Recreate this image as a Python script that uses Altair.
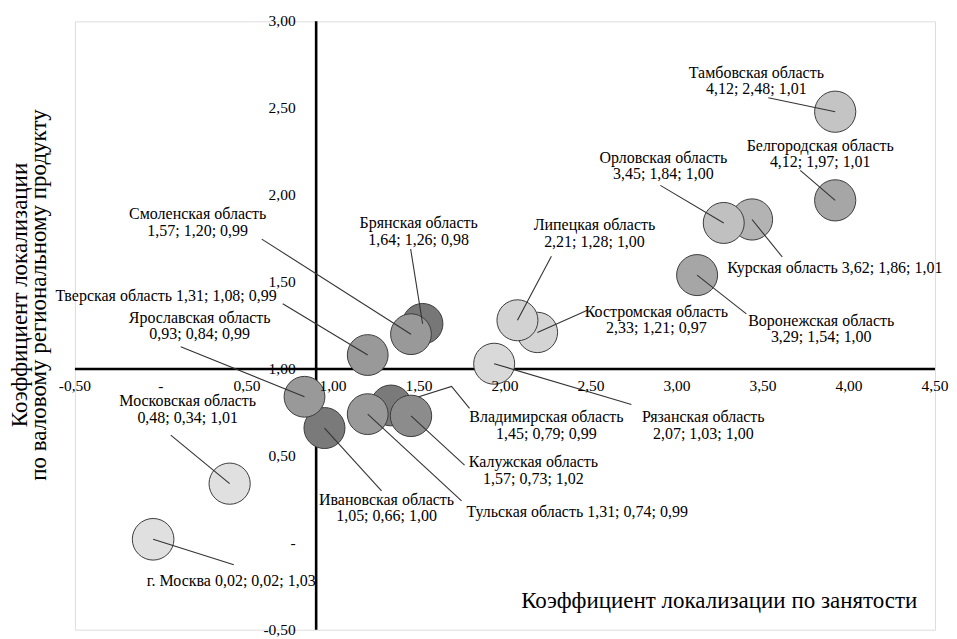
import altair as alt
import pandas as pd

# ---------------- data (drawing order: back to front) ----------------
regions = [
    "Брянская область", "Ивановская область", "Владимирская область",
    "Курская область", "Костромская область", "Смоленская область",
    "Тверская область", "Ярославская область", "Тульская область",
    "Калужская область", "Липецкая область", "Рязанская область",
    "Орловская область", "Тамбовская область", "Белгородская область",
    "Воронежская область", "Московская область", "г. Москва",
]
loc_employment = [1.64, 1.05, 1.45, 3.62, 2.33, 1.57, 1.31, 0.93, 1.31,
                  1.57, 2.21, 2.07, 3.45, 4.12, 4.12, 3.29, 0.48, 0.02]
loc_grp = [1.26, 0.66, 0.79, 1.86, 1.21, 1.20, 1.08, 0.84, 0.74,
           0.73, 1.28, 1.03, 1.84, 2.48, 1.97, 1.54, 0.34, 0.02]
bubble_size = [0.98, 1.00, 0.99, 1.01, 0.97, 0.99, 0.99, 0.99, 0.99,
               1.02, 1.00, 1.00, 1.00, 1.01, 1.01, 1.00, 1.01, 1.03]

# ---------------- styles ----------------
bubble_fill = ["#777777", "#7a7a7a", "#7a7a7a", "#b3b3b3", "#d4d4d4", "#999999",
               "#999999", "#999999", "#999999", "#8c8c8c", "#d2d2d2", "#d9d9d9",
               "#c0c0c0", "#c4c4c4", "#a6a6a6", "#a6a6a6", "#e0e0e0", "#e0e0e0"]

# ---------------- label layout (in chart data units) ----------------
label_x = [1.616, 1.423, 2.384, 3.471, 3.045, 0.288, 0.763, 0.300, 1.904,
           2.306, 2.673, 3.327, 3.087, 3.646, 4.030, 4.036, 0.228, 0.997]
label_y = [1.838, 0.246, 0.722, 1.581, 1.329, 1.890, 1.420, 1.294, 0.178,
           0.464, 1.827, 0.722, 2.216, 2.703, 2.285, 1.277, 0.813, -0.218]
label_align = ["center", "center", "center", "left", "center", "center",
               "right", "center", "left", "center", "center", "center",
               "center", "center", "center", "center", "center", "right"]
leader_end_x = [1.568, 1.393, 1.922, 3.802, 2.637, 0.673, 0.799, 0.186, 1.874,
                1.892, 2.414, 2.895, 3.069, 3.718, 3.910, 3.586, 0.126, 0.505]
leader_end_y = [1.690, 0.298, 0.773, 1.644, 1.340, 1.747, 1.375, 1.128, 0.241,
                0.447, 1.649, 0.796, 2.056, 2.560, 2.142, 1.317, 0.619, -0.126]
elbow = {"Владимирская область": (1.814, 0.899)}

x_ticks = [-0.5, 0.0, 0.5, 1.0, 1.5, 2.0, 2.5, 3.0, 3.5, 4.0, 4.5]
x_tick_labels = ["-0,50", "-", "0,50", "1,00", "1,50", "2,00", "2,50",
                 "3,00", "3,50", "4,00", "4,50"]
y_ticks = [3.0, 2.5, 2.0, 1.5, 1.0, 0.5, 0.0, -0.5]
y_tick_labels = ["3,00", "2,50", "2,00", "1,50", "1,00", "0,50", "-", "-0,50"]
x_tick_row = 0.9     # vertical place of x tick labels (data units)
y_tick_col = 0.877   # horizontal place of y tick labels (data units)
cross = 1.0          # axes cross at (1, 1)

x_title = "Коэффициент локализации по занятости"
y_title = ["Коэффициент локализации", "по валовому региональному продукту"]

FONT = "'Liberation Serif', 'Times New Roman', 'DejaVu Serif', serif"
LABEL_SIZE = 16
TICK_SIZE = 15.5
TITLE_SIZE = 23


def fmt(v):
    return f"{v:.2f}".replace(".", ",")


rows = []
for i, r in enumerate(regions):
    vals = f"{fmt(loc_employment[i])}; {fmt(loc_grp[i])}; {fmt(bubble_size[i])}"
    single = label_align[i] != "center"
    rows.append(dict(
        i=i, region=r, x=loc_employment[i], y=loc_grp[i], s=bubble_size[i],
        fill=bubble_fill[i], lx=label_x[i], ly=label_y[i], align=label_align[i],
        line1=(r + " " + vals) if single else r,
        line2="" if single else vals,
    ))
df = pd.DataFrame(rows)

lead_rows = []
for i, r in enumerate(regions):
    pts = [(loc_employment[i], loc_grp[i])]
    if r in elbow:
        pts.append(elbow[r])
    pts.append((leader_end_x[i], leader_end_y[i]))
    for k, (px, py) in enumerate(pts):
        lead_rows.append(dict(region=r, k=k, x=px, y=py))
lead = pd.DataFrame(lead_rows)

xs = alt.Scale(domain=[-0.45, 4.72], nice=False, zero=False)
ys = alt.Scale(domain=[-0.5, 3.0], nice=False, zero=False)

base = alt.Chart(df)

h_axis = alt.Chart(pd.DataFrame({"v": [cross]})).mark_rule(
    color="black", strokeWidth=2.6).encode(y=alt.Y("v:Q", scale=ys, axis=None))
v_axis = alt.Chart(pd.DataFrame({"v": [cross]})).mark_rule(
    color="black", strokeWidth=2.6).encode(x=alt.X("v:Q", scale=xs, axis=None))

leaders_under = alt.Chart(lead).transform_filter(
    alt.FieldOneOfPredicate(field="region", oneOf=list(elbow.keys()))
).mark_line(color="#333333", strokeWidth=1.1).encode(
    x=alt.X("x:Q", scale=xs, axis=None), y=alt.Y("y:Q", scale=ys, axis=None),
    detail="region:N", order="k:Q")

bubbles = base.mark_circle(opacity=1, stroke="#3c3c3c", strokeWidth=1).encode(
    x=alt.X("x:Q", scale=xs, axis=None),
    y=alt.Y("y:Q", scale=ys, axis=None),
    size=alt.Size("s:Q", scale=alt.Scale(domain=[0, 1.03], range=[0, 1735]), legend=None),
    fill=alt.Fill("fill:N", scale=None),
    order=alt.Order("i:Q"),
)

leaders = alt.Chart(lead).transform_filter(
    ~alt.FieldOneOfPredicate(field="region", oneOf=list(elbow.keys()))
).mark_line(color="#333333", strokeWidth=1.1).encode(
    x=alt.X("x:Q", scale=xs, axis=None), y=alt.Y("y:Q", scale=ys, axis=None),
    detail="region:N", order="k:Q")

y_tick_layer = alt.Chart(pd.DataFrame({"v": y_ticks, "t": y_tick_labels, "c": y_tick_col})).mark_text(
    font=FONT, fontSize=TICK_SIZE, align="right", baseline="middle", color="black").encode(
    x=alt.X("c:Q", scale=xs, axis=None), y=alt.Y("v:Q", scale=ys, axis=None), text="t:N")


def label_layer(align, field, dy):
    return base.transform_filter(alt.datum.align == align).mark_text(
        font=FONT, fontSize=LABEL_SIZE, align=align, baseline="middle", color="black", dy=dy
    ).encode(x=alt.X("lx:Q", scale=xs, axis=None), y=alt.Y("ly:Q", scale=ys, axis=None),
             text=f"{field}:N")


labels = [
    label_layer("center", "line1", 0),
    label_layer("center", "line2", 16.5),
    label_layer("left", "line1", 0),
    label_layer("right", "line1", 0),
]

x_title_layer = alt.Chart(pd.DataFrame({"t": [x_title]})).mark_text(
    font=FONT, fontSize=TITLE_SIZE, align="center", baseline="middle", color="black").encode(
    x=alt.value(645), y=alt.value(580), text="t:N")
y_title_layer1 = alt.Chart(pd.DataFrame({"t": [y_title[0]]})).mark_text(
    font=FONT, fontSize=TITLE_SIZE, align="center", baseline="middle", angle=270, color="black").encode(
    x=alt.value(-55), y=alt.value(274), text="t:N")
y_title_layer2 = alt.Chart(pd.DataFrame({"t": [y_title[1]]})).mark_text(
    font=FONT, fontSize=TITLE_SIZE, align="center", baseline="middle", angle=270, color="black").encode(
    x=alt.value(-36), y=alt.value(274), text="t:N")

main = alt.layer(h_axis, v_axis, leaders_under, bubbles, leaders, y_tick_layer,
                 *labels, x_title_layer, y_title_layer1, y_title_layer2)

# x tick labels follow their own evenly spaced scale along the axis
x_tick_layer = alt.Chart(pd.DataFrame({"v": x_ticks, "t": x_tick_labels, "r": x_tick_row})).mark_text(
    font=FONT, fontSize=TICK_SIZE, align="center", baseline="middle", color="black").encode(
    x=alt.X("v:Q", scale=alt.Scale(domain=[-0.5, 4.5], nice=False, zero=False), axis=None),
    y=alt.Y("r:Q", scale=ys, axis=None), text="t:N")

chart = alt.layer(main, x_tick_layer).resolve_scale(x="independent").properties(
    width=861, height=609,
    autosize=alt.AutoSizeParams(type="none"),
    padding={"left": 67, "top": 13, "right": 14, "bottom": 8},
).configure_view(stroke=None).configure(background="white")

chart.save("out.html", embed_options={"renderer": "svg", "actions": False})
